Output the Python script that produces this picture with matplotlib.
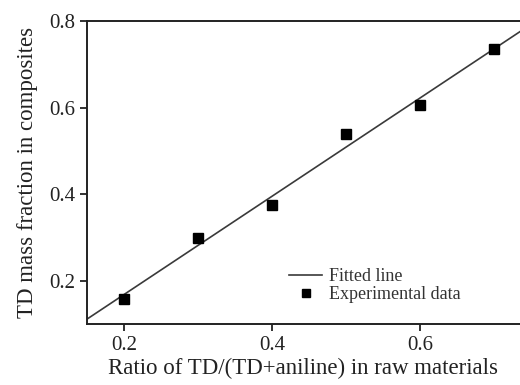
import matplotlib as mpl
import matplotlib.pyplot as plt
import numpy as np

mpl.rc('font', family='Liberation Serif', size=12)

ratio = np.array([0.2, 0.3, 0.4, 0.5, 0.6, 0.7])
td_frac = np.array([0.158, 0.299, 0.375, 0.539, 0.606, 0.736])

xlim = (0.15, 0.735)
ylim = (0.1, 0.8)
xticks = [0.2, 0.4, 0.6]
yticks = [0.2, 0.4, 0.6, 0.8]

k, b = np.polyfit(ratio, td_frac, 1)
xf = np.array(xlim)

fig = plt.figure(figsize=(5.2, 3.85), dpi=100)
ax = fig.add_axes([0.167, 0.158, 0.833, 0.787])

ax.plot(xf, k*xf + b, color='#3a3a3a', lw=1.2, label='Fitted line')
ax.plot(ratio, td_frac, 's', color='black', ms=7, ls='none', label='Experimental data')

ax.set(xlim=xlim, ylim=ylim, xticks=xticks, yticks=yticks)
ax.set_xticklabels(['0.2', '0.4', '0.6'])
ax.set_yticklabels(['0.2', '0.4', '0.6', '0.8'])
ax.set_xlabel('Ratio of TD/(TD+aniline) in raw materials', fontsize=16.5,
              color='#222222', labelpad=2)
ax.set_ylabel('TD mass fraction in composites', fontsize=16.5,
              color='#222222', labelpad=8)

ax.spines['right'].set_visible(False)
for s in ['left', 'bottom', 'top']:
    ax.spines[s].set_linewidth(1.4)
    ax.spines[s].set_color('#222222')
ax.tick_params(direction='out', length=5, width=1.3, labelsize=15, colors='#222222')

leg = ax.legend(loc='lower left', bbox_to_anchor=(0.43, 0.015), frameon=False,
                fontsize=13, handlelength=1.8, handletextpad=0.4, labelspacing=0.05,
                markerscale=0.75)
for t in leg.get_texts():
    t.set_color('#333333')

fig.savefig('out.png', dpi=100)
